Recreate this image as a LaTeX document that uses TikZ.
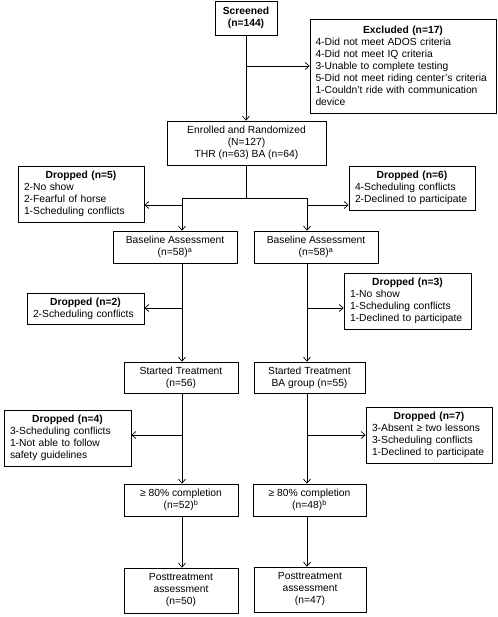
\documentclass[tikz,border=0pt]{standalone}
\usepackage{fontspec}
\setmainfont{Liberation Sans}
\usetikzlibrary{arrows.meta}
\newcommand\diagfont{\fontsize{10.3}{12}\selectfont}
\tikzset{
  box/.style={draw, line width=0.7pt, inner sep=0pt, align=center, font=\diagfont},
  lbox/.style={draw, line width=0.7pt, inner xsep=6pt, inner ysep=1pt, align=left, font=\diagfont},
  conn/.style={line width=0.7pt},
  arr/.style={conn, -{Straight Barb[length=4pt,width=7pt]}}
}
\begin{document}
\begin{tikzpicture}[x=1pt,y=-1pt]
\useasboundingbox (0,0) rectangle (497,617);
% main boxes
\node[box, minimum width=62pt, minimum height=34pt] (scr) at (246,18) {\textbf{Screened}\\\textbf{(n=144)}};
\node[lbox, text width=175pt, inner xsep=5.5pt, minimum height=94pt] (excl) at (403,66)
  {{\centering\bfseries Excluded (n=17)\par}4-Did not meet ADOS criteria\\4-Did not meet IQ criteria\\3-Unable to complete testing\\5-Did not meet riding center’s criteria\\1-Couldn’t ride with communication\\device};
\node[box, minimum width=159pt, minimum height=44pt] (enr) at (246.5,143) {Enrolled and Randomized\\(N=127)\\THR (n=63) BA (n=64)};
\node[lbox, text width=114pt, minimum height=56pt] (d5) at (81,194)
  {{\centering\bfseries Dropped (n=5)\par}2-No show\\2-Fearful of horse\\1-Scheduling conflicts};
\node[lbox, text width=114pt, minimum height=44pt] (d6) at (412,188)
  {{\centering\bfseries Dropped (n=6)\par}4-Scheduling conflicts\\2-Declined to participate};
\node[box, minimum width=124pt, minimum height=32pt] (baseL) at (175,247) {Baseline Assessment\\(n=58)\textsuperscript{a}};
\node[box, minimum width=124pt, minimum height=32pt] (baseR) at (316,247) {Baseline Assessment\\(n=58)\textsuperscript{a}};
\node[lbox, text width=105pt, minimum height=31pt] (d2) at (85.5,308.5)
  {{\centering\bfseries Dropped (n=2)\par}2-Scheduling conflicts};
\node[lbox, text width=115pt, minimum height=56pt] (d3) at (407.5,301)
  {{\centering\bfseries Dropped (n=3)\par}1-No show\\1-Scheduling conflicts\\1-Declined to participate};
\node[box, minimum width=114pt, minimum height=31pt] (startL) at (181,377.5) {Started Treatment\\(n=56)};
\node[box, minimum width=111pt, minimum height=31pt] (startR) at (309.5,377.5) {Started Treatment\\BA group (n=55)};
\node[lbox, text width=115pt, minimum height=56pt] (d4) at (67.5,438)
  {{\centering\bfseries Dropped (n=4)\par}3-Scheduling conflicts\\1-Not able to follow\\safety guidelines};
\node[lbox, text width=114pt, minimum height=56pt] (d7) at (429,435)
  {{\centering\bfseries Dropped (n=7)\par}3-Absent ≥ two lessons\\3-Scheduling conflicts\\1-Declined to participate};
\node[box, minimum width=114pt, minimum height=32pt] (compL) at (181,500) {≥ 80\% completion\\(n=52)\textsuperscript{b}};
\node[box, minimum width=113pt, minimum height=32pt] (compR) at (309.5,500) {≥ 80\% completion\\(n=48)\textsuperscript{b}};
\node[box, minimum width=114pt, minimum height=45pt] (postL) at (181,590.5) {Posttreatment\\assessment\\(n=50)};
\node[box, minimum width=112pt, minimum height=45pt] (postR) at (310,589.5) {Posttreatment\\assessment\\(n=47)};
% coordinates
\coordinate (split) at (246.5,198);
\coordinate (bl) at (182,198);
\coordinate (br) at (307,198);
\coordinate (l1) at (182,205);
\coordinate (r1) at (307,205);
\coordinate (l2) at (182,308);
\coordinate (r2) at (307,308);
\coordinate (l3) at (182,435);
\coordinate (r3) at (307,435);
% connectors
\draw[arr] (scr.south) -- (scr.south |- enr.north);
\draw[arr] (scr.south |- excl.west) -- (excl.west);
\draw[conn] (enr.south) -- (split);
\draw[conn] (bl) -- (br);
\draw[arr] (bl) -- (bl |- baseL.north);
\draw[arr] (br) -- (br |- baseR.north);
\draw[arr] (l1) -- (l1 -| d5.east);
\draw[arr] (r1) -- (r1 -| d6.west);
\draw[arr] (bl |- baseL.south) -- (bl |- startL.north);
\draw[arr] (br |- baseR.south) -- (br |- startR.north);
\draw[arr] (l2) -- (l2 -| d2.east);
\draw[arr] (r2) -- (r2 -| d3.west);
\draw[arr] (bl |- startL.south) -- (bl |- compL.north);
\draw[arr] (br |- startR.south) -- (br |- compR.north);
\draw[arr] (l3) -- (l3 -| d4.east);
\draw[arr] (r3) -- (r3 -| d7.west);
\draw[arr] (bl |- compL.south) -- (bl |- postL.north);
\draw[arr] (br |- compR.south) -- (br |- postR.north);
\end{tikzpicture}
\end{document}
